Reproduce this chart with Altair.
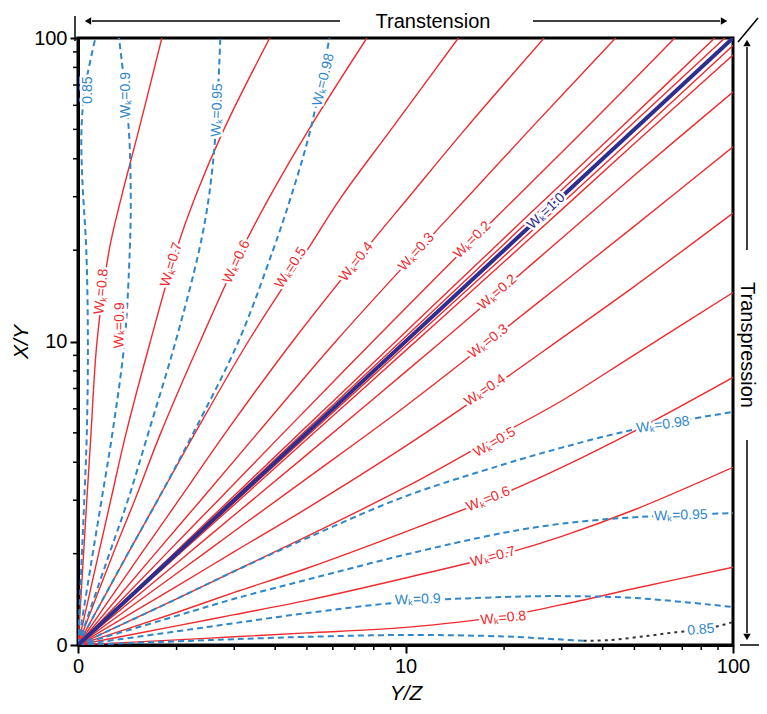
import altair as alt
import pandas as pd

RED = "#ee2b2f"
BLUE = "#2f86c9"
DARK = "#2d2f8f"
FONT = "Liberation Sans"

# Y/Z values at which each transpression-side contour was read (X/Y values below)
ALONG = [1, 2, 3, 5, 10, 20, 30, 50, 100]

RED_ACROSS = {
    "0.05": [1, 1.98, 2.95, 4.88, 9.66, 19.1, 28.5, 47.3, 94.4],
    "0.1": [1, 1.96, 2.90, 4.76, 9.33, 18.3, 27.2, 44.9, 87.9],
    "0.2": [1, 1.86, 2.68, 4.24, 7.94, 15.0, 21.9, 35.3, 66.4],
    "0.3": [1, 1.72, 2.37, 3.54, 6.12, 10.96, 15.5, 24.0, 43.8],
    "0.4": [1, 1.56, 2.03, 2.82, 4.52, 7.52, 10.26, 15.2, 26.5],
    "0.5": [1, 1.42, 1.75, 2.28, 3.31, 5.01, 6.38, 9.04, 14.5],
    "0.6": [1, 1.28, 1.49, 1.79, 2.36, 3.16, 3.85, 5.07, 7.62],
    "0.7": [1, 1.156, 1.259, 1.403, 1.663, 1.995, 2.28, 2.79, 3.85],
    "0.8": [1, 1.04, 1.064, 1.096, 1.143, 1.245, 1.358, 1.535, 1.803],
}
BLUE_ACROSS = {
    "0.98": [1, 1.419, 1.75, 2.25, 3.09, 3.94, 4.47, 5.13, 5.86],
    "0.95": [1, 1.247, 1.42, 1.64, 1.986, 2.344, 2.51, 2.636, 2.72],
    "0.9": [1, 1.109, 1.18, 1.274, 1.387, 1.439, 1.449, 1.429, 1.334],
}
# Wk = 0.85 contours
LOW085_YZ = [1, 2, 3, 5, 10, 20, 30, 35]
LOW085_XY = [1, 1.028, 1.045, 1.064, 1.079, 1.067, 1.042, 1.033]
LOW085_DOT_YZ = [35, 42, 55, 68, 80, 100]
LOW085_DOT_XY = [1.033, 1.038, 1.072, 1.104, 1.12, 1.19]
UP085_XY = [1, 2, 3, 5, 10, 20, 35, 50, 68, 100]
UP085_YZ = [1, 1.028, 1.045, 1.064, 1.072, 1.06, 1.03, 1.025, 1.05, 1.13]
# Wk = 1.0
DIAG = [1, 100]

# labels
LAB_TEXT = ["Wₖ=0.2", "Wₖ=0.3", "Wₖ=0.4", "Wₖ=0.5", "Wₖ=0.6", "Wₖ=0.7", "Wₖ=0.8",
            "Wₖ=1.0", "Wₖ=0.98", "Wₖ=0.95", "Wₖ=0.9", "0.85",
            "Wₖ=0.8", "Wₖ=0.9", "Wₖ=0.7", "Wₖ=0.6", "Wₖ=0.5", "Wₖ=0.4", "Wₖ=0.3", "Wₖ=0.2",
            "0.85", "Wₖ=0.9", "Wₖ=0.95", "Wₖ=0.98"]
LAB_YZ = [19.1, 17.9, 17.5, 18.7, 17.9, 18.5, 19.9,
          26.9, 61.1, 69.3, 10.9, 79.8,
          1.18, 1.34, 1.93, 3.05, 4.47, 7.08, 10.8, 16.0,
          1.07, 1.40, 2.66, 5.62]
LAB_XY = [14.5, 10.0, 6.9, 4.65, 3.02, 1.95, 1.225,
          26.9, 5.31, 2.67, 1.41, 1.122,
          14.6, 11.3, 17.9, 18.3, 17.5, 18.3, 19.7, 21.6,
          67.4, 64.9, 57.9, 72.8]
LAB_ANGLE = [319, 322, 326, 330, 338, 345, 354,
             317, 352, 358, 358, 355,
             276, 271, 287, 295, 303, 308, 312, 315,
             270, 270, 272, 284]
LAB_COLOR = [RED] * 7 + [DARK] + [BLUE] * 4 + [RED] * 8 + [BLUE] * 4

MINOR = [2, 3, 4, 5, 6, 7, 8, 9, 20, 30, 40, 50, 60, 70, 80, 90]

W, H = 655, 607

rows = []
def add(name, kind, yz, xy):
    for i, (a, b) in enumerate(zip(yz, xy)):
        rows.append({"line": name, "kind": kind, "seq": i, "yz": a, "xy": b})

for wk, across in RED_ACROSS.items():
    add("low " + wk, "red", ALONG, across)
    add("up " + wk, "red", across, ALONG)
for wk, across in BLUE_ACROSS.items():
    add("low " + wk, "blue", ALONG, across)
    add("up " + wk, "blue", across, ALONG)
add("low 0.85", "blue", LOW085_YZ, LOW085_XY)
add("up 0.85", "blue", UP085_YZ, UP085_XY)
add("low 0.85 dot", "dot", LOW085_DOT_YZ, LOW085_DOT_XY)
add("diag", "diag", DIAG, DIAG)
df = pd.DataFrame(rows)

xscale = alt.Scale(type="log", domain=[1, 100], nice=False)
yscale = alt.Scale(type="log", domain=[1, 100], nice=False)
lab_expr = "datum.value == 1 ? '0' : format(datum.value, 'd')"
X = alt.X("yz:Q", scale=xscale,
          axis=alt.Axis(values=[1, 10, 100], labelExpr=lab_expr, title="Y/Z",
                        labelPadding=3, titlePadding=6))
Y = alt.Y("xy:Q", scale=yscale,
          axis=alt.Axis(values=[1, 10, 100], labelExpr=lab_expr, title="X/Y",
                        labelPadding=3, titlePadding=2))

base = alt.Chart(df)
def lines(kind, **kw):
    return base.transform_filter(alt.datum.kind == kind).mark_line(
        interpolate="catmull-rom", clip=True, **kw).encode(
        x=X, y=Y, detail="line:N", order="seq:Q")

red_l = lines("red", color=RED, strokeWidth=1.4)
blue_l = lines("blue", color=BLUE, strokeWidth=2, strokeDash=[6, 4])
dot_l = lines("dot", color="#333333", strokeWidth=2, strokeDash=[3, 4])
diag_l = lines("diag", color=DARK, strokeWidth=4)

labdf = pd.DataFrame({"text": LAB_TEXT, "yz": LAB_YZ, "xy": LAB_XY,
                      "angle": LAB_ANGLE, "color": LAB_COLOR})
lab_base = alt.Chart(labdf)
halo = lab_base.mark_text(font=FONT, fontSize=14, fill="white", stroke="white",
                          strokeWidth=5, strokeJoin="round", align="center",
                          baseline="middle").encode(
    x=X, y=Y, text="text:N", angle=alt.Angle("angle:Q", scale=None))
labs = lab_base.mark_text(font=FONT, fontSize=14, align="center",
                          baseline="middle").encode(
    x=X, y=Y, text="text:N", angle=alt.Angle("angle:Q", scale=None),
    color=alt.Color("color:N", scale=None))

minor_df = pd.DataFrame({"yz": MINOR, "xy": MINOR})
minor_x = alt.Chart(minor_df).mark_rule(color="black", strokeWidth=1.5).encode(
    x=X, y=alt.value(H), y2=alt.value(H + 5))
minor_y = alt.Chart(minor_df).mark_rule(color="black", strokeWidth=1.5).encode(
    y=Y, x=alt.value(0), x2=alt.value(-5))

one = pd.DataFrame({"a": [0]})
def rule(x1, y1, x2, y2, w=1.5):
    return alt.Chart(one).mark_rule(color="black", strokeWidth=w).encode(
        x=alt.value(x1), y=alt.value(y1), x2=alt.value(x2), y2=alt.value(y2))
def head(x, y, shape):
    return alt.Chart(one).mark_point(shape=shape, filled=True, color="black",
                                     size=55, opacity=1).encode(
        x=alt.value(x), y=alt.value(y))
def txt(x, y, s, angle=0):
    return alt.Chart(one).mark_text(font=FONT, fontSize=20, color="black",
                                    angle=angle, align="center",
                                    baseline="middle").encode(
        x=alt.value(x), y=alt.value(y), text=alt.value(s))

RX = 669
annots = [
    rule(-3, -22, -3, 3),
    rule(14, -17, 262, -17), head(10, -17, "triangle-left"),
    txt(355, -16, "Transtension"),
    rule(455, -17, 642, -17), head(646, -17, "triangle-right"),
    rule(660, 4, 680, -20),
    rule(RX, 212, RX, 9), head(RX, 5, "triangle-up"),
    txt(RX, 307, "Transpression", 90),
    rule(RX, 402, RX, 595), head(RX, 599, "triangle-down"),
    rule(662, H, 681, H),
]

chart = alt.layer(red_l, blue_l, dot_l, diag_l, halo, labs, minor_x, minor_y,
                  *annots).properties(
    width=W, height=H, autosize=alt.AutoSizeParams(type="none"),
    padding={"left": 70, "top": 30, "right": 26, "bottom": 60},
).configure_view(stroke="black", strokeWidth=3).configure_axis(
    domainColor="black", domainWidth=3, tickColor="black", tickWidth=2,
    tickSize=8, labelFont=FONT, labelFontSize=20, labelColor="black",
    titleFont=FONT, titleFontSize=21, titleFontStyle="italic",
    titleFontWeight="normal", titleColor="black", grid=False, labelFlush=False,
)

chart.save("out.html", embed_options={"renderer": "svg", "actions": False})
